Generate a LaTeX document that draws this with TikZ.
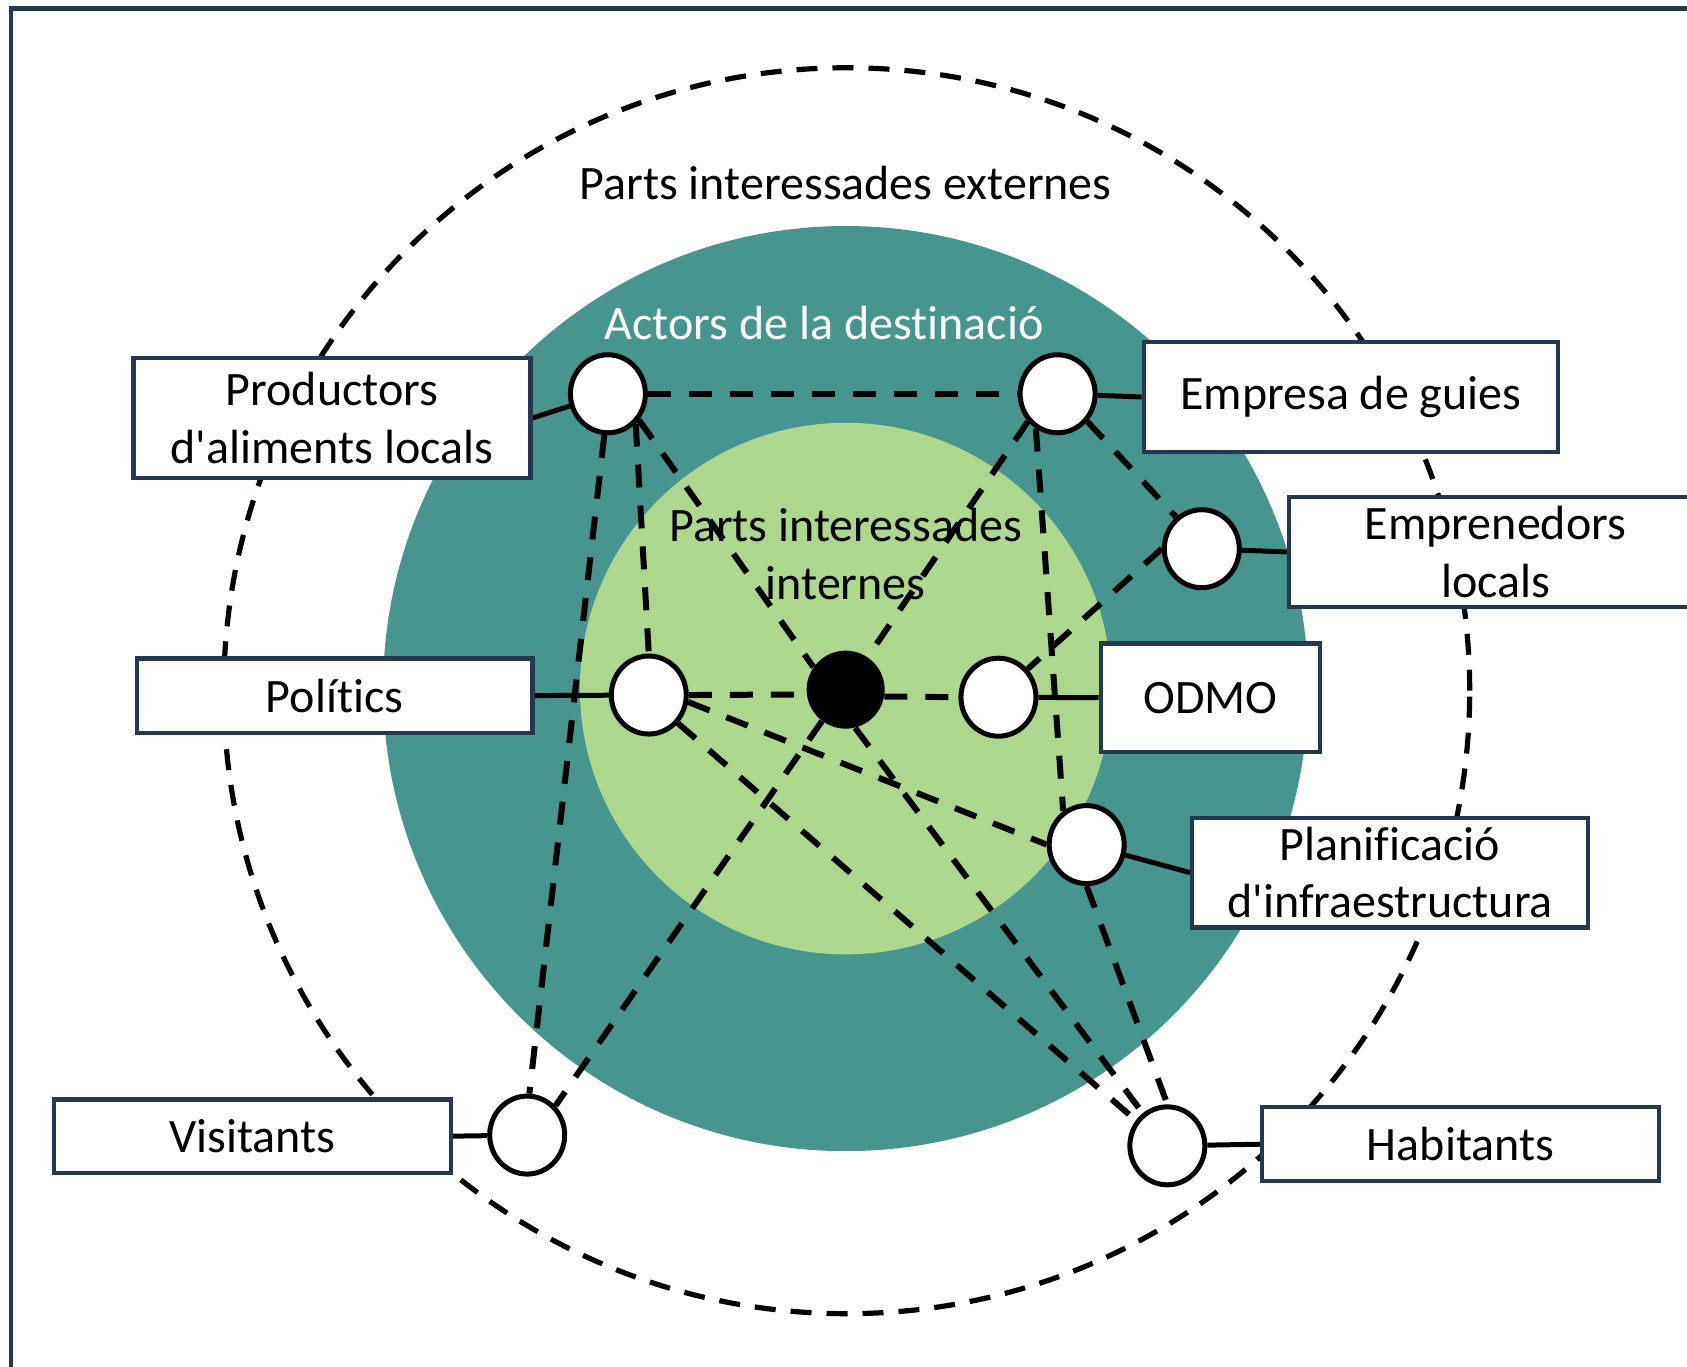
\documentclass[tikz,border=0pt]{standalone}
\usepackage{fontspec}
\setmainfont{Carlito}[Ligatures={NoCommon}]
\usetikzlibrary{shapes.geometric}
\definecolor{tealbg}{RGB}{70,150,143}
\definecolor{lgreen}{RGB}{172,215,141}
\definecolor{navy}{RGB}{37,56,82}
\pgfdeclarelayer{back}
\pgfdeclarelayer{mid}
\pgfsetlayers{back,mid,main}
\begin{document}
\begin{tikzpicture}[x=0.538pt,y=-0.538pt,
  font=\fontsize{24}{28.8}\selectfont,
  dot/.style={ellipse, draw=black, line width=2.5pt, fill=white, minimum width=37.5pt, minimum height=39pt, inner sep=0pt},
  hub/.style={circle, fill=black, minimum size=39pt, inner sep=0pt},
  lbl/.style={rectangle, draw=navy, line width=2.1pt, fill=white, align=center, inner sep=0pt},
  link/.style={line width=3pt, dash pattern=on 11.5pt off 9pt},
  tie/.style={line width=2.5pt}]
\useasboundingbox (0,0) rectangle (1568,1270);
\draw[navy, line width=2.2pt] (10,1275) -- (10,8) -- (1575,8);

\begin{pgfonlayer}{back}
  \fill[tealbg] (786,640) circle[radius=231.3pt];
  \fill[lgreen] (786,640) circle[radius=132.9pt];
  \draw[line width=2.6pt, dash pattern=on 10.5pt off 7.5pt] (787,642) circle[radius=311.5pt];
\end{pgfonlayer}

\node (t1) at (786,170) {Parts interessades externes};
\node[text=white] (t2) at (766,300) {Actors de la destinació};
\node[align=center] (t3) at (786,515) {Parts interessades\\internes};

% circles
\node[dot] (P) at (565,366) {};
\node[dot] (E) at (983,366) {};
\node[dot] (M) at (1117,510) {};
\node[dot] (O) at (928,648) {};
\node[dot] (L) at (603,646) {};
\node[hub] (C) at (786,641) {};
\node[dot] (I) at (1010,785) {};
\node[dot] (V) at (490,1055) {};
\node[dot] (H) at (1085,1065) {};

% boxes
\node[lbl, minimum width=198.5pt, minimum height=59.7pt] (Pb) at (308.5,388.5) {Productors\\d\textquotesingle aliments locals};
\node[lbl, minimum width=207.1pt, minimum height=54.9pt] (Eb) at (1255.5,369) {Empresa de guies};
\node[lbl, minimum width=206.6pt, minimum height=54.9pt] (Mb) at (1390,513) {Emprenedors\\locals};
\node[lbl, minimum width=109.8pt, minimum height=54.3pt] (Ob) at (1125,648.5) {ODMO};
\node[lbl, minimum width=198pt, minimum height=37.1pt] (Lb) at (311,646.5) {Polítics};
\node[lbl, minimum width=198pt, minimum height=54.9pt] (Ib) at (1292,811) {Planificació\\d\textquotesingle infraestructura};
\node[lbl, minimum width=198.5pt, minimum height=36.6pt] (Vb) at (234.5,1056) {Visitants};
\node[lbl, minimum width=198.5pt, minimum height=37.1pt] (Hb) at (1357.5,1063.5) {Habitants};

\begin{pgfonlayer}{mid}
  % solid ties
  \draw[tie] (Pb.east) -- (P);
  \draw[tie] (E) -- (Eb.west);
  \draw[tie] (M) -- (Mb.west);
  \draw[tie] (O) -- (Ob.west);
  \draw[tie] (L) -- (Lb.east);
  \draw[tie] (I) -- (Ib.west);
  \draw[tie] (V) -- (Vb.east);
  \draw[tie] (H) -- (Hb.west);
  % dashed links
  \draw[link] (P.0) -- (E.180);
  \draw[link] (P.-47) -- (L.90);
  \draw[link] (P.-40) -- (C.145);
  \draw[link] (P.-95) -- (V.87);
  \draw[link] (E.223) -- (C.56);
  \draw[link] (E.238) -- (I.125);
  \draw[link] (E.-43) -- (M.129);
  \draw[link] (M.180) -- (O.44);
  \draw[link] (L.0) -- (C.187);
  \draw[link] (C.-10) -- (O.west);
  \draw[link] (L.-10) -- (I.180);
  \draw[link] (L.-44) -- (H.141);
  \draw[link] (C.233) -- (V.46);
  \draw[link] (C.284) -- (H.127);
  \draw[link] (I.-90) -- (H.90);
\end{pgfonlayer}
\end{tikzpicture}
\end{document}
